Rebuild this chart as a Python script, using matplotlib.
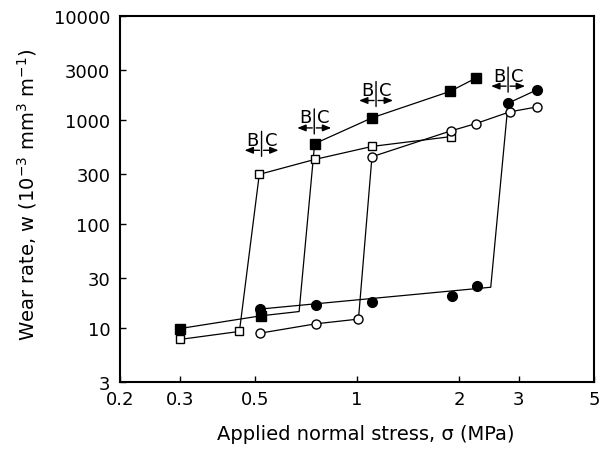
"""
Wear rate vs applied normal stress, log-log, with B|C transition marks
"""
#%%
import numpy as np
import matplotlib
matplotlib.use('Agg')
import matplotlib.pyplot as plt
from matplotlib.transforms import offset_copy

plt.rcParams['font.family'] = ['DejaVu Sans']
plt.rcParams['mathtext.fontset'] = 'dejavusans'
#%% data
# filled squares
fsq_x = [0.30, 0.52, 0.75, 1.11, 1.88, 2.24]
fsq_y = [9.8, 13.0, 590, 1050, 1880, 2520]
fsq_line_x = [0.30, 0.52, 0.675, 0.75, 1.11, 1.88, 2.24]
fsq_line_y = [9.8, 13.0, 14.3, 590, 1050, 1880, 2520]

# open squares
osq_x = [0.30, 0.45, 0.515, 0.75, 1.11, 1.89]
osq_y = [7.7, 9.2, 299, 416, 556, 690]

# filled circles
fci_x = [0.517, 0.757, 1.11, 1.90, 2.26, 2.79, 3.39]
fci_y = [15.1, 16.6, 17.8, 20.0, 25.0, 1447, 1945]
fci_line_x = [0.517, 2.48, 2.79, 3.39]
fci_line_y = [15.1, 24.5, 1447, 1945]

# open circles
oci_x = [0.517, 0.757, 1.01, 1.107, 1.89, 2.24, 2.82, 3.39]
oci_y = [8.85, 10.9, 12.1, 442, 783, 921, 1194, 1332]

# B|C marks (divider position, text centre)
bc_x = [0.523, 0.748, 1.138, 2.79]
bc_y = [665, 1092, 2005, 2757]

xticks = [0.2, 0.3, 0.5, 1, 2, 3, 5]
xticklabels = ['0.2', '0.3', '0.5', '1', '2', '3', '5']
yticks = [3, 10, 30, 100, 300, 1000, 3000, 10000]
yticklabels = ['3', '10', '30', '100', '300', '1000', '3000', '10000']
#%%
fig = plt.figure(figsize=(6.14, 4.52), dpi=100)
ax = fig.add_axes([120/614, 1-383/452, (594-120)/614, (383-17)/452])
ax.set_xscale('log')
ax.set_yscale('log')
ax.set_xlim(0.2, 5)
ax.set_ylim(3, 10000)

lw = 0.9
ax.plot(fsq_line_x, fsq_line_y, color='black', linewidth=lw, zorder=2)
ax.plot(osq_x, osq_y, color='black', linewidth=lw, zorder=2)
ax.plot(fci_line_x, fci_line_y, color='black', linewidth=lw, zorder=2)
ax.plot(oci_x, oci_y, color='black', linewidth=lw, zorder=2)

ax.plot(osq_x, osq_y, 's', ms=6, mfc='white', mec='black', mew=1.0, zorder=3)
ax.plot(oci_x, oci_y, 'o', ms=6.5, mfc='white', mec='black', mew=1.0, zorder=3)
ax.plot(fsq_x, fsq_y, 's', ms=6.5, mfc='black', mec='black', zorder=4)
ax.plot(fci_x, fci_y, 'o', ms=7, mfc='black', mec='black', zorder=4)

#%% B|C marks
def tr(dx, dy):
    return offset_copy(ax.transData, fig=fig, x=dx, y=dy, units='dots')

for x, y in zip(bc_x, bc_y):
    ax.text(x, y, 'B', transform=tr(-3, -6.5), ha='right', va='baseline', fontsize=13)
    ax.text(x, y, 'C', transform=tr(3, -6.5), ha='left', va='baseline', fontsize=13)
    ax.annotate('', xy=(x, y), xycoords=tr(0, 7), xytext=(x, y), textcoords=tr(0, -18),
                arrowprops=dict(arrowstyle='-', lw=1, shrinkA=0, shrinkB=0))
    for s in (-1, 1):
        ax.annotate('', xy=(x, y), xycoords=tr(s*17, -12), xytext=(x, y), textcoords=tr(s*2, -12),
                    arrowprops=dict(arrowstyle='-|>,head_length=0.5,head_width=0.2', lw=1,
                                    color='black', shrinkA=0, shrinkB=0))

#%% axes styling
ax.xaxis.set_major_locator(matplotlib.ticker.FixedLocator(xticks))
ax.xaxis.set_major_formatter(matplotlib.ticker.FixedFormatter(xticklabels))
ax.xaxis.set_minor_locator(matplotlib.ticker.NullLocator())
ax.yaxis.set_major_locator(matplotlib.ticker.FixedLocator(yticks))
ax.yaxis.set_major_formatter(matplotlib.ticker.FixedFormatter(yticklabels))
ax.yaxis.set_minor_locator(matplotlib.ticker.NullLocator())
ax.tick_params(direction='in', length=4, width=1, labelsize=13)
ax.tick_params(axis='x', pad=6)
ax.tick_params(axis='y', pad=7)
for sp in ax.spines.values():
    sp.set_linewidth(1.5)

fig.text(366/614, 1-435/452, 'Applied normal stress, σ (MPa)', ha='center', va='center', fontsize=14)
fig.text(27/614, 1-195/452, r'Wear rate, w (10$^{-3}$ mm$^{3}$ m$^{-1}$)',
         rotation=90, ha='center', va='center', fontsize=14)

fig.savefig('out.png', dpi=100)
